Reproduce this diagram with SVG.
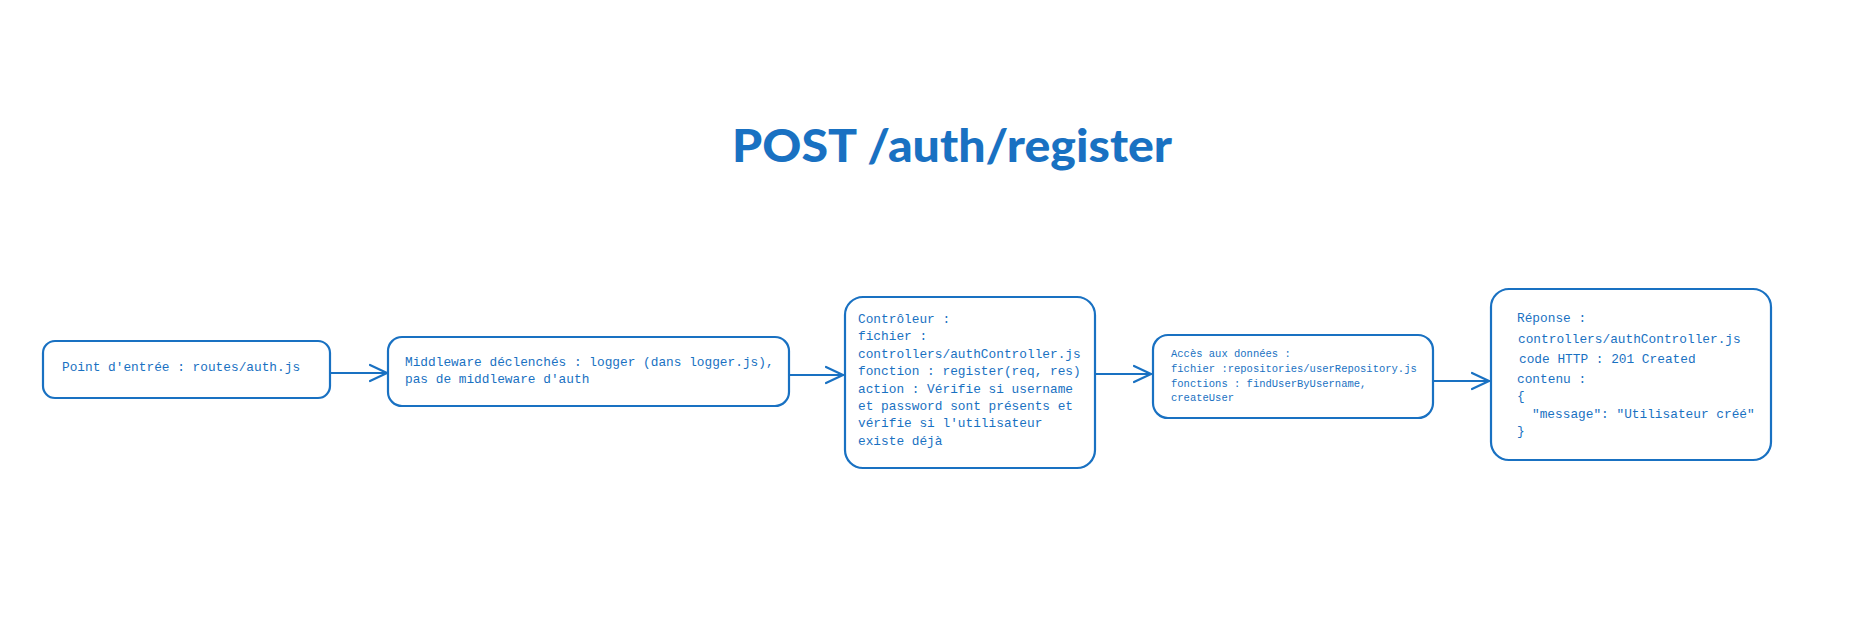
<svg xmlns="http://www.w3.org/2000/svg" width="1858" height="631" viewBox="0 0 1858 631">
<style>
.box{fill:#ffffff;stroke:#1971c2;stroke-width:2.2}
.t{font-family:"Liberation Mono","DejaVu Sans Mono",monospace;font-size:12.8px;fill:#1971c2}
.s{font-size:10.5px}
.c{fill:none;stroke:#1971c2;stroke-width:2.2;stroke-linecap:round;stroke-linejoin:round}
.title{font-family:Lato,"Open Sans",sans-serif;font-weight:900;font-size:46px;fill:#1971c2}
</style>
<defs>
<marker id="ah" viewBox="0 0 20 20" refX="18" refY="10" markerWidth="20" markerHeight="20" markerUnits="userSpaceOnUse" orient="auto">
<path d="M1 2 L18 10 L1 18" fill="none" stroke="#1971c2" stroke-width="2.2" stroke-linecap="round" stroke-linejoin="round"/>
</marker>
</defs>
<rect width="1858" height="631" fill="#ffffff"/>
<text class="title" x="952" y="162" text-anchor="middle" textLength="440" lengthAdjust="spacingAndGlyphs">POST /auth/register</text>
<g id="connectors">
<path class="c" d="M330 373 L387 373" marker-end="url(#ah)"/>
<path class="c" d="M790 375 L843 375" marker-end="url(#ah)"/>
<path class="c" d="M1095 374 L1151 374" marker-end="url(#ah)"/>
<path class="c" d="M1433 381 L1489 381" marker-end="url(#ah)"/>
</g>
<g id="n1">
<rect class="box" x="43" y="341" width="287" height="57" rx="12"/>
<text class="t" x="62" y="371">Point d'entrée : routes/auth.js</text>
</g>
<g id="n2">
<rect class="box" x="388" y="337" width="401" height="69" rx="14"/>
<text class="t" x="405" y="366">Middleware déclenchés : logger (dans logger.js),</text>
<text class="t" x="405" y="383">pas de middleware d'auth</text>
</g>
<g id="n3">
<rect class="box" x="845" y="297" width="250" height="171" rx="18"/>
<text class="t" x="858" y="323">Contrôleur :</text>
<text class="t" x="858" y="340">fichier :</text>
<text class="t" x="858" y="358">controllers/authController.js</text>
<text class="t" x="858" y="375">fonction : register(req, res)</text>
<text class="t" x="858" y="393">action : Vérifie si username</text>
<text class="t" x="858" y="410">et password sont présents et</text>
<text class="t" x="858" y="427">vérifie si l'utilisateur</text>
<text class="t" x="858" y="445">existe déjà</text>
</g>
<g id="n4">
<rect class="box" x="1153" y="335" width="280" height="83" rx="15"/>
<text class="t s" x="1171" y="357">Accès aux données :</text>
<text class="t s" x="1171" y="372">fichier :repositories/userRepository.js</text>
<text class="t s" x="1171" y="387">fonctions : findUserByUsername,</text>
<text class="t s" x="1171" y="401">createUser</text>
</g>
<g id="n5">
<rect class="box" x="1491" y="289" width="280" height="171" rx="18"/>
<text class="t" x="1517" y="322">Réponse :</text>
<text class="t" x="1518" y="343">controllers/authController.js</text>
<text class="t" x="1519" y="363">code HTTP : 201 Created</text>
<text class="t" x="1517" y="383">contenu :</text>
<text class="t" x="1517" y="400">{</text>
<text class="t" x="1532" y="418">"message": "Utilisateur créé"</text>
<text class="t" x="1517" y="435">}</text>
</g>
</svg>
